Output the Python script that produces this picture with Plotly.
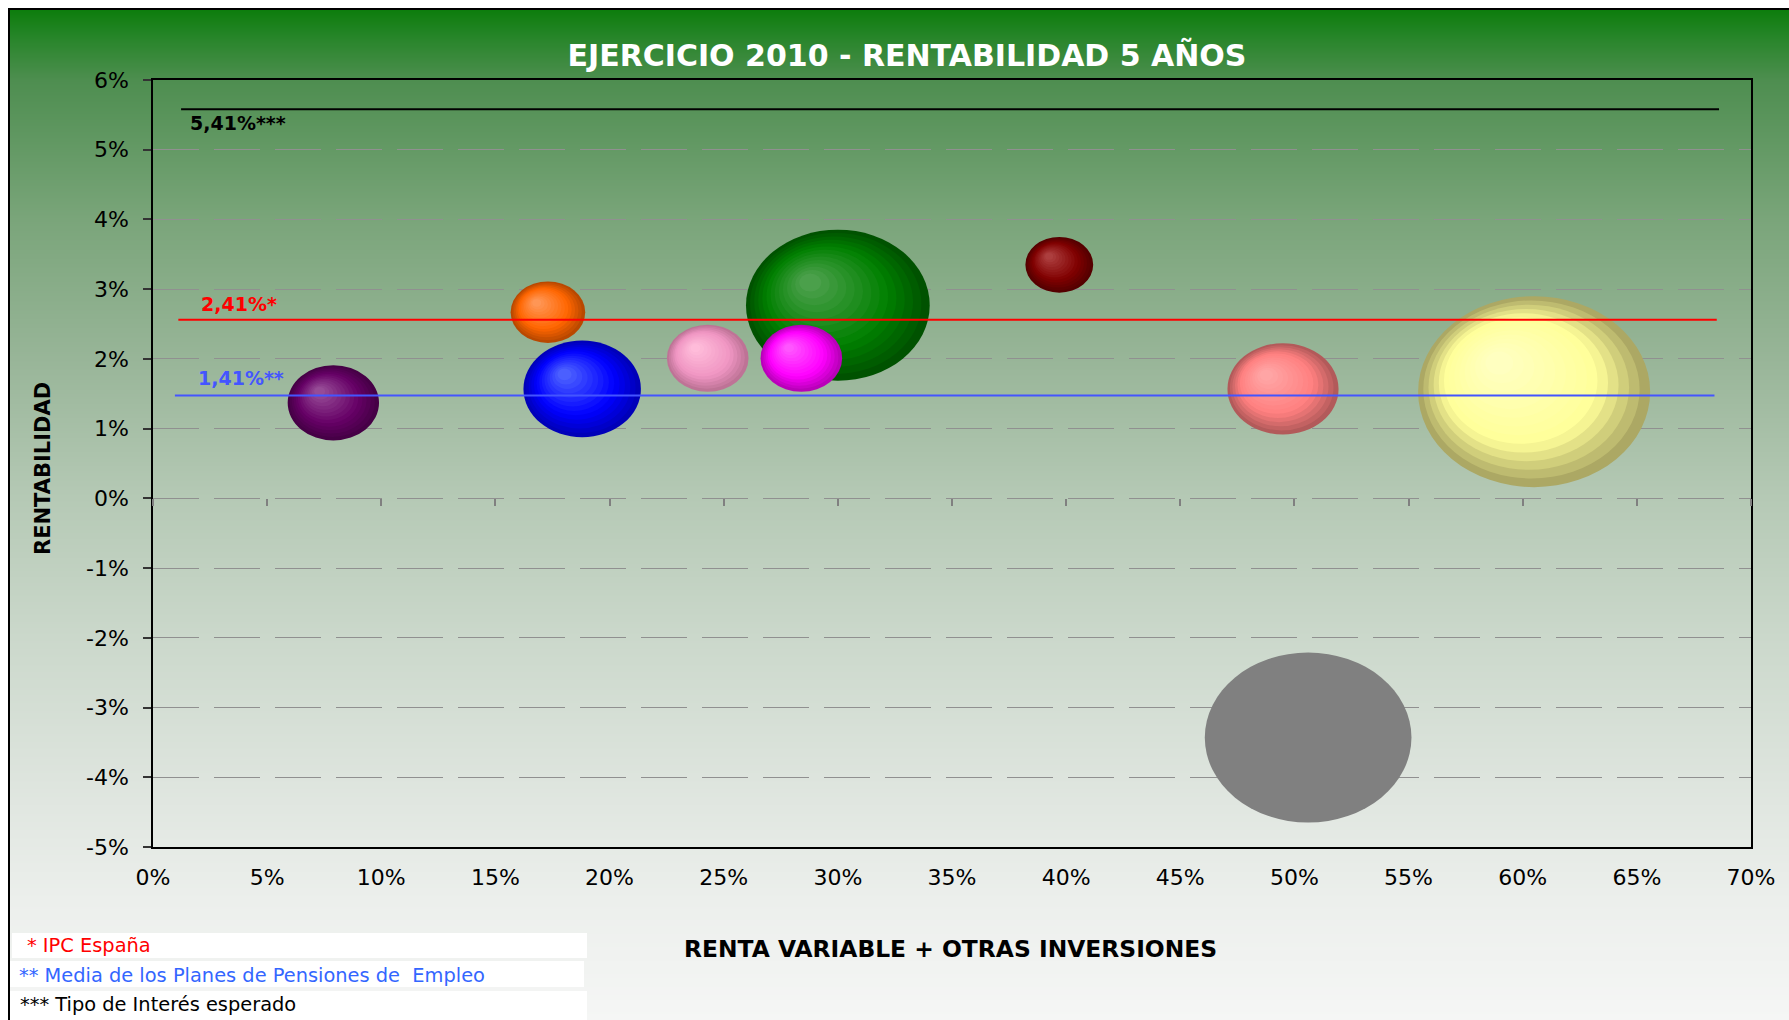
import base64
import math
import struct
import zlib

import plotly.graph_objects as go

# ---------------- data ----------------
renta_variable = [7.9, 17.3, 18.8, 24.3, 30.0, 28.4, 39.7, 49.5, 60.5, 50.6]      # x (%)
rentabilidad = [1.37, 2.67, 1.57, 2.01, 2.77, 2.01, 3.35, 1.57, 1.53, -3.43]       # y (%)
volumen = [69, 46, 114, 55, 279, 55, 38, 102, 445, 353]                           # bubble size

# (edge, base, highlight) colours for each bubble
bubble_palette = [
    ((70, 0, 70), (102, 0, 102), (150, 75, 150)),
    ((185, 72, 0), (255, 102, 0), (255, 150, 85)),
    ((0, 0, 185), (0, 0, 255), (75, 95, 255)),
    ((190, 115, 150), (240, 150, 195), (255, 188, 218)),
    ((0, 82, 0), (0, 128, 0), (75, 160, 75)),
    ((185, 0, 185), (255, 0, 255), (255, 85, 255)),
    ((85, 0, 0), (128, 0, 0), (172, 62, 62)),
    ((178, 90, 90), (255, 128, 128), (255, 165, 165)),
    ((172, 168, 100), (255, 255, 153), (255, 255, 192)),
    None,  # flat grey
]
flat_colour = "#808080"

ref_values = [5.58, 2.56, 1.475]
ref_labels = ["5,41%***", "2,41%*", "1,41%**"]
ref_colours = ["#000000", "#ff0000", "#4455ff"]
ref_x_start = [1.23, 1.11, 0.96]
ref_x_end = [68.6, 68.5, 68.4]

x_tick_vals = [0, 5, 10, 15, 20, 25, 30, 35, 40, 45, 50, 55, 60, 65, 70]
x_tick_text = ["0%", "5%", "10%", "15%", "20%", "25%", "30%", "35%", "40%",
               "45%", "50%", "55%", "60%", "65%", "70%"]
y_tick_vals = [-5, -4, -3, -2, -1, 0, 1, 2, 3, 4, 5, 6]
y_tick_text = ["-5%", "-4%", "-3%", "-2%", "-1%", "0%", "1%", "2%", "3%", "4%", "5%", "6%"]

notes = ["* IPC España", "** Media de los Planes de Pensiones de\u00a0 Empleo", "*** Tipo de Interés esperado"]
note_colours = ["#ff0000", "#3366ff", "#000000"]

title_text = "EJERCICIO 2010 - RENTABILIDAD 5 AÑOS"
x_title = "RENTA VARIABLE + OTRAS INVERSIONES"
y_title = "RENTABILIDAD"

# ---------------- geometry ----------------
W, H = 1789, 1020
ML, MR, MT, MB = 153, 38, 80, 173
PW, PH = W - ML - MR, H - MT - MB
FONT = "DejaVu Sans"


def px_x(px):
    return (px - ML) / PW


def px_y(py):
    return (H - MB - py) / PH


# ---------------- background gradient ----------------
stops = [(9, (12, 125, 12)), (40, (42, 134, 44)), (80, (78, 142, 80)),
         (219, (122, 165, 122)), (358, (152, 181, 152)), (497, (181, 201, 181)),
         (637, (203, 216, 203)), (776, (221, 228, 221)), (900, (236, 239, 236)),
         (1020, (245, 246, 245))]


def grad_colour(y):
    for (y0, c0), (y1, c1) in zip(stops[:-1], stops[1:]):
        if y0 <= y <= y1:
            t = (y - y0) / (y1 - y0)
            return tuple(int(round(a + (b - a) * t)) for a, b in zip(c0, c1))
    return stops[-1][1]


rows = [grad_colour(y) for y in range(9, H)]
raw = b"".join(b"\x00" + bytes(c) for c in rows)


def chunk(tag, data):
    return struct.pack(">I", len(data)) + tag + data + struct.pack(">I", zlib.crc32(tag + data) & 0xFFFFFFFF)


png = (b"\x89PNG\r\n\x1a\n"
       + chunk(b"IHDR", struct.pack(">IIBBBBB", 1, len(rows), 8, 2, 0, 0, 0))
       + chunk(b"IDAT", zlib.compress(raw))
       + chunk(b"IEND", b""))
bg_uri = "data:image/png;base64," + base64.b64encode(png).decode()

fig = go.Figure()

# invisible bubble trace (data carrier / hover)
fig.add_trace(go.Scatter(
    x=renta_variable, y=rentabilidad, mode="markers", xaxis="x2",
    marker=dict(size=[10 * math.sqrt(v) for v in volumen], opacity=0),
    hovertemplate="%{x:.1f}% / %{y:.2f}%<extra></extra>", showlegend=False))

# reference lines
for v, c, x0, x1 in zip(ref_values, ref_colours, ref_x_start, ref_x_end):
    fig.add_trace(go.Scatter(x=[x0, x1], y=[v, v], mode="lines",
                             line=dict(color=c, width=2), hoverinfo="skip", showlegend=False))

# bubbles as layered ellipses (pseudo 3-D)
N = 14


def mix(a, b, t):
    return tuple(int(round(p + (q - p) * t)) for p, q in zip(a, b))


for i, (xv, yv, vol) in enumerate(zip(renta_variable, rentabilidad, volumen)):
    d = 10 * math.sqrt(vol)
    w, h = d * 1.1, d * 0.905
    pal = bubble_palette[i]
    layers = 1 if pal is None else N
    for k in range(layers):
        t = k / (N - 1)
        s = 1 - 0.88 * t
        cx = -0.3 * (w / 2) * t
        cy = 0.3 * (h / 2) * t
        if pal is None:
            col = flat_colour
        else:
            edge, base, hi = pal
            if t < 0.35:
                c = mix(edge, base, t / 0.35)
            else:
                c = mix(base, hi, (t - 0.35) / 0.65)
            col = "rgb(%d,%d,%d)" % c
        fig.add_shape(type="circle", xref="x", yref="y", xsizemode="pixel", ysizemode="pixel",
                      xanchor=xv, yanchor=yv,
                      x0=cx - s * w / 2, x1=cx + s * w / 2,
                      y0=cy - s * h / 2, y1=cy + s * h / 2,
                      fillcolor=col, line=dict(width=0), layer="between")

# outer frame
fig.add_shape(type="rect", xref="paper", yref="paper",
              x0=px_x(9), x1=px_x(W + 10), y0=px_y(9), y1=px_y(H + 10),
              line=dict(color="black", width=2), fillcolor="rgba(0,0,0,0)", layer="above")

# notes boxes
note_boxes = [(12, 587, 933, 958), (10, 584, 961, 987), (10, 587, 991, 1021)]
note_pos = [(24.5, 945.7), (16.6, 975), (17.8, 1004)]
for (bx0, bx1, by0, by1), (tx, ty), txt, col in zip(note_boxes, note_pos, notes, note_colours):
    fig.add_shape(type="rect", xref="paper", yref="paper",
                  x0=px_x(bx0), x1=px_x(bx1), y0=px_y(by1), y1=px_y(by0),
                  line=dict(width=0), fillcolor="white", layer="below")
    fig.add_annotation(text=txt, xref="paper", yref="paper", x=px_x(tx), y=px_y(ty),
                       xanchor="left", yanchor="middle", showarrow=False,
                       font=dict(family=FONT, size=19.4, color=col))

# reference-line labels
for v, lab, c, xs, dx, dy in zip(ref_values, ref_labels, ref_colours, ref_x_start,
                                 [7, 21, 21], [-14, 16, 18]):
    fig.add_annotation(text=lab, x=xs, y=v, xref="x", yref="y", xanchor="left", yanchor="middle",
                       xshift=dx, yshift=dy, showarrow=False,
                       font=dict(family=FONT, size=19, color=c, weight="bold"))

# axis titles
fig.add_annotation(text=x_title, xref="paper", yref="paper", x=px_x(950), y=px_y(949),
                   xanchor="center", yanchor="middle", showarrow=False,
                   font=dict(family=FONT, size=23.4, color="black", weight="bold"))
fig.add_annotation(text=y_title, xref="paper", yref="paper", x=px_x(43), y=px_y(468),
                   xanchor="center", yanchor="middle", showarrow=False, textangle=-90,
                   font=dict(family=FONT, size=21, color="black", weight="bold"))

fig.update_layout(
    width=W, height=H, margin=dict(l=ML, r=MR, t=MT, b=MB, autoexpand=False),
    paper_bgcolor="white", plot_bgcolor="rgba(0,0,0,0)", showlegend=False,
    title=dict(text=title_text, xref="container", yref="container",
               x=907 / W, y=1 - 55 / H, xanchor="center", yanchor="middle",
               font=dict(family=FONT, size=30, color="white", weight="bold")),
    images=[dict(source=bg_uri, xref="paper", yref="paper", x=px_x(9), y=px_y(9),
                 sizex=(W + 10 - 9) / PW, sizey=(H - 9) / PH, xanchor="left", yanchor="top",
                 sizing="stretch", layer="below")],
    xaxis=dict(range=[0, 70], tickvals=x_tick_vals, ticktext=x_tick_text, showgrid=False,
               zeroline=False, showline=True, linecolor="black", linewidth=1.5, mirror=True,
               ticks="", ticklabelstandoff=10,
               tickfont=dict(family=FONT, size=22, color="black")),
    xaxis2=dict(range=[0, 70], overlaying="x", anchor="free", position=5 / 11,
                tickvals=x_tick_vals, showticklabels=False, showgrid=False, zeroline=False,
                showline=False, ticks="outside", ticklen=7, tickwidth=1.5, tickcolor="#808080"),
    yaxis=dict(range=[-5, 6], tickvals=y_tick_vals, ticktext=y_tick_text, showgrid=True,
               gridcolor="#909090", gridwidth=1.2, griddash="46px,15px", zeroline=False,
               showline=True, linecolor="black", linewidth=1.5, mirror=True,
               ticks="outside", ticklen=8, tickwidth=1.5, tickcolor="#333333",
               ticklabelstandoff=10,
               tickfont=dict(family=FONT, size=22, color="black")),
)

fig.write_html("out.html", config={"displayModeBar": False},
               post_script="document.body.style.margin='0';document.body.style.overflow='hidden';")
